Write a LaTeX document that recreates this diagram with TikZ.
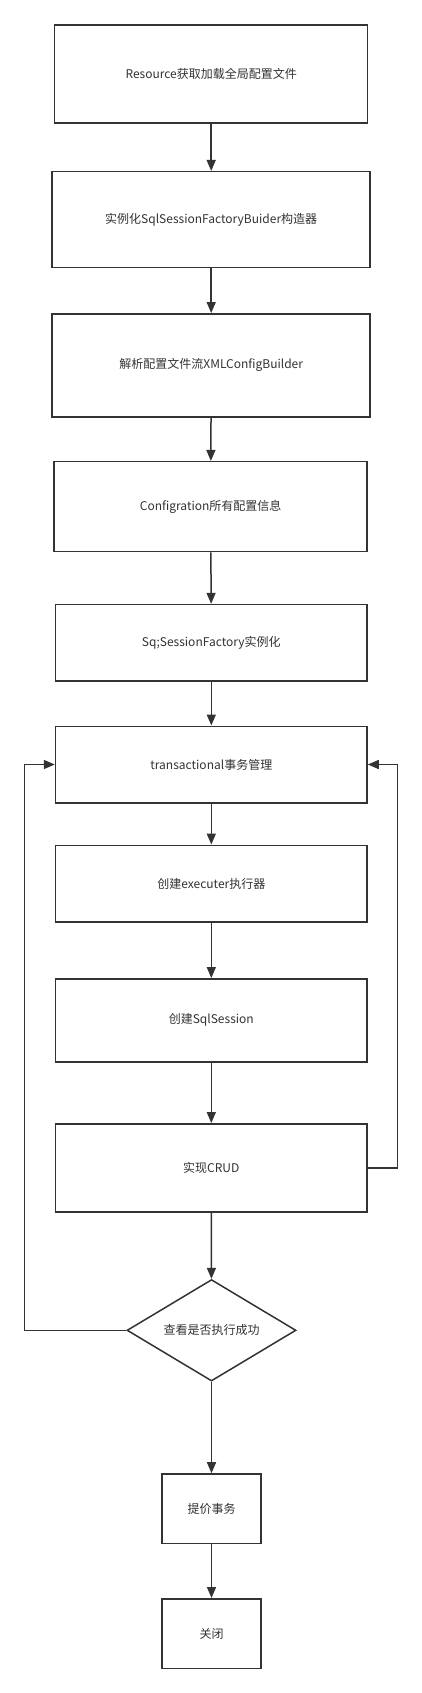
\documentclass[tikz,border=0pt]{standalone}
\usepackage{fontspec}
\setmainfont{Noto Sans CJK SC}
\usetikzlibrary{arrows.meta,shapes.geometric}
\definecolor{ln}{HTML}{333333}
\begin{document}
\begin{tikzpicture}[x=1pt,y=-1pt,
  box/.style={draw=ln,line width=1.5pt,fill=white,inner sep=0pt,
    font=\fontsize{12}{14}\selectfont,text=ln},
  conn/.style={draw=ln,line width=1.5pt,-{Triangle[length=11pt,width=9pt]}}]
\useasboundingbox (0,0) rectangle (422,1693);
\node[box,minimum width=313pt,minimum height=98pt] (b1) at (211.2,74.2) {Resource获取加载全局配置文件};
\node[box,minimum width=318pt,minimum height=96pt] (b2) at (211.2,219.7) {实例化SqlSessionFactoryBuider构造器};
\node[box,minimum width=318pt,minimum height=103pt] (b3) at (211.2,365.3) {解析配置文件流XMLConfigBuilder};
\node[box,minimum width=313pt,minimum height=90pt] (b4) at (210.7,506.7) {Configration所有配置信息};
\node[box,minimum width=311.5pt,minimum height=76.5pt] (b5) at (211.3,642.8) {Sq;SessionFactory实例化};
\node[box,minimum width=311.5pt,minimum height=76.5pt] (b6) at (211.3,764.5) {transactional事务管理};
\node[box,minimum width=311.5pt,minimum height=76.5pt] (b7) at (211.3,883.5) {创建executer执行器};
\node[box,minimum width=311.5pt,minimum height=83pt] (b8) at (211.3,1020.3) {创建SqlSession};
\node[box,minimum width=311.5pt,minimum height=88pt] (b9) at (211.3,1167.8) {实现CRUD};
\node[box,diamond,aspect=1.65,minimum width=169pt,minimum height=101.5pt] (dia) at (211.5,1330.3) {查看是否执行成功};
\node[box,minimum width=99pt,minimum height=69.5pt] (b10) at (211.5,1508.7) {提价事务};
\node[box,minimum width=99pt,minimum height=69.5pt] (b11) at (211.5,1633.5) {关闭};
\draw[conn] (b1) -- (b2);
\draw[conn] (b2) -- (b3);
\draw[conn] (b3) -- (b4);
\draw[conn] (b4) -- (b5);
\draw[conn] (b5) -- (b6);
\draw[conn] (b6) -- (b7);
\draw[conn] (b7) -- (b8);
\draw[conn] (b8) -- (b9);
\draw[conn] (b9) -- (dia);
\draw[conn] (dia) -- (b10);
\draw[conn] (b10) -- (b11);
\draw[conn] (dia.west) -- ++(-101.7,0) |- (b6.west);
\draw[conn] (b9.east) -- ++(29.8,0) |- (b6.east);
\end{tikzpicture}
\end{document}
